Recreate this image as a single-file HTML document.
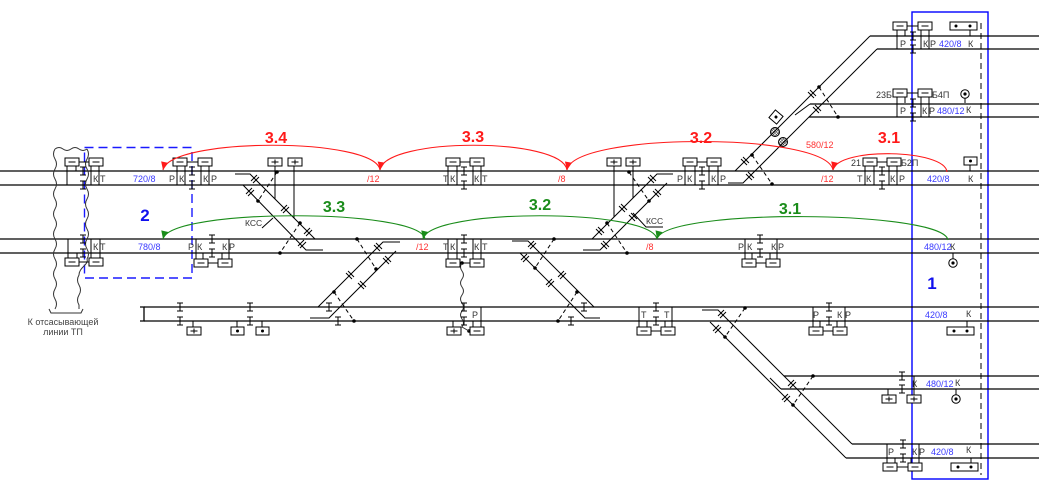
<!DOCTYPE html>
<html><head><meta charset="utf-8"><style>
html,body{margin:0;padding:0;background:#fff;}
svg{display:block;}
text{font-family:"Liberation Sans","DejaVu Sans",sans-serif;}
</style></head><body>
<svg width="1039" height="481" viewBox="0 0 1039 481" xmlns="http://www.w3.org/2000/svg">
<defs>
<g id="ib"><path d="M-3,-4h6M0,-4v8M-3,4h6" stroke="#000" stroke-width="1" fill="none"/></g>
<g id="bm"><rect x="0" y="0" width="14" height="8" fill="#fff" stroke="#000"/><path d="M3.5,4h7" stroke="#000"/></g>
<g id="bp"><rect x="0" y="0" width="14" height="8" fill="#fff" stroke="#000"/><path d="M3.5,4h7M7,1.5v5" stroke="#000"/></g>
<g id="bd"><rect x="0" y="0" width="13" height="8" fill="#fff" stroke="#000"/><circle cx="6.5" cy="4" r="1.5"/></g>
<g id="cd"><circle cx="0" cy="0" r="4.2" fill="#fff" stroke="#000"/><circle cx="0" cy="0" r="1.6"/></g>
<g id="tdr"><path d="M-4,2L2,-4M-2,4L4,-2" stroke="#000" fill="none"/></g>
<g id="tdl"><path d="M-4,-2L2,4M-2,-4L4,2" stroke="#000" fill="none"/></g>
<pattern id="hatch" width="2" height="2" patternUnits="userSpaceOnUse" patternTransform="rotate(45)"><path d="M0,0V2M0,0H2" stroke="#000" stroke-width="0.8"/></pattern>
<marker id="arR" viewBox="0 0 10 10" refX="10" refY="5" markerWidth="9" markerHeight="8" orient="auto" markerUnits="userSpaceOnUse"><path d="M0,0.5L10,5L0,9.5z" fill="#ff1a1a"/></marker>
<marker id="arG" viewBox="0 0 10 10" refX="10" refY="5" markerWidth="9" markerHeight="8" orient="auto" markerUnits="userSpaceOnUse"><path d="M0,0.5L10,5L0,9.5z" fill="#1a8c1a"/></marker>
</defs>

<!-- zone 1 -->
<rect x="912" y="12" width="76" height="467" fill="none" stroke="#0000ff" stroke-width="1.4"/>
<path d="M981,23V475" stroke="#000" stroke-width="1" stroke-dasharray="6,4" fill="none"/>
<!-- zone 2 -->
<rect x="84.5" y="147.5" width="107.5" height="130.5" fill="none" stroke="#1a1aff" stroke-width="1.4" stroke-dasharray="9,5"/>

<!-- rails -->
<g stroke="#000" stroke-width="1.3" fill="none">
<path d="M0,171H1039M0,185H1039M0,239H1039M0,253H1039M144,307H1039M144,321H1039"/>
<path d="M140,307H144V321H140"/>
<path d="M870,36H1039M877,49H1039"/>
<path d="M810,104H1039M809,117H1039"/>
<path d="M784,376H1039M781,389H1039"/>
<path d="M852,444H1039M846,458H1039"/>
</g>

<!-- diagonals -->
<g stroke="#000" stroke-width="1" fill="none">
<path d="M870,36L735,171"/>
<path d="M877,49L743,183H728"/>
<path d="M795,115L810,104"/>
<path d="M235,174H250L315,239"/>
<path d="M243,185L306,250H323"/>
<path d="M400,242H383L318,307"/>
<path d="M396,251L329,318H310"/>
<path d="M673,174H657L592,239"/>
<path d="M667,183L600,250H583"/>
<path d="M512,241H528L594,307"/>
<path d="M520,253L585,318H600"/>
<path d="M702,310H718L852,444"/>
<path d="M710,322L846,458"/>
<path d="M770,378L781,389"/>
<path d="M275,166V199M294,166V218M614,166V217M633,166V198"/>
<path d="M262,228L273,218"/>
<path d="M633,213L646,227H663"/>
</g>

<!-- dashed links -->
<g stroke="#000" stroke-width="1" stroke-dasharray="4,3" fill="none">
<path d="M277,172L258,201M300,223L280,253"/>
<path d="M357,239L376,269M334,292L354,321"/>
<path d="M629,172L649,201M607,223L627,253"/>
<path d="M554,239L535,268M577,292L558,321"/>
<path d="M819,87L838,117M752,155L772,184"/>
<path d="M745,308L725,337M813,376L793,405"/>
</g>
<g fill="#000">
<circle cx="277" cy="172" r="1.8"/><circle cx="258" cy="201" r="1.8"/><circle cx="300" cy="223" r="1.8"/><circle cx="280" cy="253" r="1.8"/>
<circle cx="357" cy="239" r="1.8"/><circle cx="376" cy="269" r="1.8"/><circle cx="334" cy="292" r="1.8"/><circle cx="354" cy="321" r="1.8"/>
<circle cx="629" cy="172" r="1.8"/><circle cx="649" cy="201" r="1.8"/><circle cx="607" cy="223" r="1.8"/><circle cx="627" cy="253" r="1.8"/>
<circle cx="554" cy="239" r="1.8"/><circle cx="535" cy="268" r="1.8"/><circle cx="577" cy="292" r="1.8"/><circle cx="558" cy="321" r="1.8"/>
<circle cx="819" cy="87" r="1.8"/><circle cx="838" cy="117" r="1.8"/><circle cx="752" cy="155" r="1.8"/><circle cx="772" cy="184" r="1.8"/>
<circle cx="745" cy="308" r="1.8"/><circle cx="725" cy="337" r="1.8"/><circle cx="813" cy="376" r="1.8"/><circle cx="793" cy="405" r="1.8"/>
<circle cx="462" cy="263" r="1.8"/><circle cx="469" cy="331" r="1.8"/>
</g>

<!-- ticks -->
<use href="#tdr" x="255" y="179"/><use href="#tdr" x="285" y="209"/><use href="#tdr" x="308" y="232"/>
<use href="#tdr" x="250" y="192"/><use href="#tdr" x="302" y="244"/>
<use href="#tdl" x="378" y="247"/><use href="#tdl" x="350" y="275"/><use href="#tdl" x="387" y="260"/><use href="#tdl" x="362" y="285"/>
<use href="#tdl" x="652" y="179"/><use href="#tdl" x="623" y="208"/><use href="#tdl" x="600" y="231"/>
<use href="#tdl" x="657" y="193"/><use href="#tdl" x="633" y="217"/><use href="#tdl" x="605" y="245"/>
<use href="#tdr" x="532" y="245"/><use href="#tdr" x="562" y="275"/><use href="#tdr" x="525" y="258"/><use href="#tdr" x="550" y="283"/>
<use href="#tdl" x="812" y="94"/><use href="#tdl" x="745" y="161"/><use href="#tdl" x="817" y="109"/><use href="#tdl" x="750" y="176"/>
<use href="#tdr" x="722" y="314"/><use href="#tdr" x="792" y="384"/><use href="#tdr" x="717" y="329"/><use href="#tdr" x="786" y="398"/>

<!-- signals on top diagonal -->
<circle cx="775" cy="132" r="4.5" fill="url(#hatch)" stroke="#000"/>
<circle cx="783" cy="142" r="4.5" fill="url(#hatch)" stroke="#000"/>
<g transform="translate(776,117) rotate(40)"><rect x="-5" y="-5" width="10" height="10" fill="#fff" stroke="#000"/><circle r="1.5"/></g>

<!-- wavy cables -->
<g stroke="#333" stroke-width="1" fill="none">
<path d="M55,149 q-3,5 0,10 t0,10 t0,10 t0,10 t0,10 t0,10 t0,10 t0,10 t0,10 t0,10 t0,10 t0,10 t0,10 t0,10 t0,10 t0,10"/>
<path d="M55,149 q4,-3 8,0 t8,0 t8,0 t8,0"/>
<path d="M87,149 q3,5 0,10 t0,10 t0,10 t0,10 t0,10 t0,10 t0,10 t0,10 t0,10 t0,10 t0,10 c2,6 -8,8 -8,16 q-3,5 0,10 t0,10 t0,10 l0,4"/>
<path d="M49,309L51,313H81L83,309"/>
<path d="M462,263 q-3,4 0,8 t0,8 t0,8 t0,8 t0,8 t0,8 t0,8 t0,8 l7,4"/>
</g>

<!-- legs and connectors -->
<g stroke="#000" stroke-width="1" fill="none">
<path d="M67,166V185M76,166V171M91,166V185M99,166V185M177,166V185M185,166V185M201,166V185M209,166V185M448,166V185M457,166V185M473,166V185M481,166V185M685,166V185M695,166V185M709,166V185M718,166V185M865,166V185M874,166V185M889,166V185M897,166V185M970,165V171"/>
<path d="M68,239V258M77,253V258M91,239V258M100,239V258M196,239V259M203,253V259M222,253V259M229,239V259M448,239V259M457,239V259M473,239V259M481,239V259M745,239V259M752,253V259M770,253V259M777,239V259M953,253V259"/>
<path d="M193,321V327M237,321V327M262,321V327M453,321V327M473,321V327M481,307V327M639,307V327M647,321V327M665,321V327M672,307V327M813,307V327M820,321V327M837,321V327M845,307V327M967,321V327"/>
<path d="M897,30V49M905,30V36M921,30V49M929,30V49M970,30V36"/>
<path d="M897,97V117M905,97V103M921,97V117M929,97V117M965,98V103"/>
<path d="M888,389V395M914,376V395M956,389V395"/>
<path d="M887,444V463M895,458V463M911,458V463M919,444V463M971,458V463"/>
<path d="M79,162H89M187,162H198M460,162H470M697,162H707M877,162H887"/>
<path d="M79,262H89M208,263H218M460,263H470M756,263H766"/>
<path d="M651,331H661M823,331H833"/>
<path d="M907,26H918M907,93H918M897,467H908"/>
</g>

<!-- boxes -->
<use href="#bm" x="65" y="158"/><use href="#bm" x="89" y="158"/>
<use href="#bm" x="173" y="158"/><use href="#bm" x="198" y="158"/>
<use href="#bp" x="268" y="158"/><use href="#bp" x="288" y="158"/>
<use href="#bm" x="446" y="158"/><use href="#bm" x="470" y="158"/>
<use href="#bp" x="607" y="158"/><use href="#bp" x="626" y="158"/>
<use href="#bm" x="683" y="158"/><use href="#bm" x="707" y="158"/>
<use href="#bm" x="863" y="158"/><use href="#bm" x="887" y="158"/>
<use href="#bd" x="964" y="157"/>

<use href="#bm" x="65" y="258"/><use href="#bm" x="89" y="258"/>
<use href="#bm" x="194" y="259"/><use href="#bm" x="218" y="259"/>
<use href="#bm" x="446" y="259"/><use href="#bm" x="470" y="259"/>
<use href="#bm" x="742" y="259"/><use href="#bm" x="766" y="259"/>
<use href="#cd" x="953" y="263"/>

<use href="#bp" x="187" y="327"/><use href="#bd" x="231" y="327"/><use href="#bd" x="256" y="327"/>
<use href="#bp" x="447" y="327"/><use href="#bm" x="470" y="327"/>
<use href="#bm" x="637" y="327"/><use href="#bm" x="661" y="327"/>
<use href="#bm" x="809" y="327"/><use href="#bm" x="833" y="327"/>
<rect x="947" y="327" width="27" height="8" fill="#fff" stroke="#000"/><circle cx="954" cy="331" r="1.5"/><circle cx="967" cy="331" r="1.5"/>

<use href="#bm" x="893" y="22"/><use href="#bm" x="918" y="22"/>
<rect x="950" y="22" width="27" height="8" fill="#fff" stroke="#000"/><circle cx="956" cy="26" r="1.5"/><circle cx="970" cy="26" r="1.5"/>
<use href="#bm" x="893" y="89"/><use href="#bm" x="918" y="89"/>
<use href="#cd" x="965" y="94"/>

<use href="#bp" x="882" y="395"/><use href="#bp" x="907" y="395"/>
<use href="#cd" x="956" y="399"/>

<use href="#bm" x="883" y="463"/><use href="#bm" x="908" y="463"/>
<rect x="951" y="463" width="27" height="8" fill="#fff" stroke="#000"/><circle cx="958" cy="467" r="1.5"/><circle cx="971" cy="467" r="1.5"/>

<!-- I-beams -->
<use href="#ib" x="83" y="171"/><use href="#ib" x="83" y="185"/><use href="#ib" x="192" y="171"/><use href="#ib" x="192" y="185"/>
<use href="#ib" x="464" y="171"/><use href="#ib" x="464" y="185"/><use href="#ib" x="702" y="171"/><use href="#ib" x="702" y="185"/>
<use href="#ib" x="882" y="171"/><use href="#ib" x="882" y="185"/>
<use href="#ib" x="83" y="239"/><use href="#ib" x="83" y="253"/><use href="#ib" x="212" y="239"/><use href="#ib" x="212" y="253"/>
<use href="#ib" x="464" y="239"/><use href="#ib" x="464" y="253"/><use href="#ib" x="760" y="239"/><use href="#ib" x="760" y="253"/>
<use href="#ib" x="180" y="307"/><use href="#ib" x="180" y="321"/><use href="#ib" x="250" y="307"/><use href="#ib" x="250" y="321"/>
<use href="#ib" x="329" y="307"/><use href="#ib" x="338" y="321"/><use href="#ib" x="464" y="307"/><use href="#ib" x="464" y="321"/>
<use href="#ib" x="584" y="307"/><use href="#ib" x="571" y="321"/><use href="#ib" x="656" y="307"/><use href="#ib" x="656" y="321"/>
<use href="#ib" x="829" y="307"/><use href="#ib" x="829" y="321"/>
<use href="#ib" x="913" y="36"/><use href="#ib" x="913" y="49"/><use href="#ib" x="913" y="103"/><use href="#ib" x="913" y="117"/>
<use href="#ib" x="902" y="376"/><use href="#ib" x="902" y="389"/><use href="#ib" x="903" y="444"/><use href="#ib" x="903" y="458"/>

<!-- arcs -->
<g fill="none" stroke-width="1.1">
<path d="M947,172 C945,149 838,147 833,170" stroke="#ff1a1a" marker-end="url(#arR)"/>
<path d="M833,170 C826,132 574,132 567,170" stroke="#ff1a1a" marker-end="url(#arR)"/>
<path d="M567,170 C562,137 385,137 380,170" stroke="#ff1a1a" marker-end="url(#arR)"/>
<path d="M380,170 C375,137 170,137 163,170" stroke="#ff1a1a" marker-end="url(#arR)"/>
<path d="M948,240 C943,210 665,208 657,239" stroke="#1a8c1a" marker-end="url(#arG)"/>
<path d="M657,239 C650,208 430,208 423,239" stroke="#1a8c1a" marker-end="url(#arG)"/>
<path d="M425,239 C420,208 170,208 163,239" stroke="#1a8c1a" marker-end="url(#arG)"/>
</g>

<!-- big labels -->
<g font-weight="bold" font-size="16" text-anchor="middle">
<text x="276" y="143" fill="#ff1a1a">3.4</text>
<text x="473" y="142" fill="#ff1a1a">3.3</text>
<text x="701" y="143" fill="#ff1a1a">3.2</text>
<text x="889" y="143" fill="#ff1a1a">3.1</text>
<text x="334" y="212" fill="#1a8c1a">3.3</text>
<text x="540" y="210" fill="#1a8c1a">3.2</text>
<text x="790" y="214" fill="#1a8c1a">3.1</text>
</g>
<g font-weight="bold" font-size="17" fill="#1010ee" text-anchor="middle">
<text x="932" y="289">1</text>
<text x="145" y="221">2</text>
</g>

<!-- small labels -->
<g font-size="9" fill="#333">
<text x="93" y="182">К</text><text x="100" y="182">Т</text>
<text x="169" y="182">Р</text><text x="179" y="182">К</text><text x="203" y="182">К</text><text x="211" y="182">Р</text>
<text x="443" y="182">Т</text><text x="450" y="182">К</text><text x="474" y="182">К</text><text x="482" y="182">Т</text>
<text x="677" y="182">Р</text><text x="687" y="182">К</text><text x="711" y="182">К</text><text x="720" y="182">Р</text>
<text x="857" y="182">Т</text><text x="866" y="182">К</text><text x="890" y="182">К</text><text x="899" y="182">Р</text>
<text x="968" y="182">К</text>
<text x="851" y="166">21</text><text x="901" y="166">Б2П</text>

<text x="93" y="250">К</text><text x="100" y="250">Т</text>
<text x="188" y="250">Р</text><text x="197" y="250">К</text><text x="222" y="250">К</text><text x="229" y="250">Р</text>
<text x="443" y="250">Т</text><text x="450" y="250">К</text><text x="474" y="250">К</text><text x="482" y="250">Т</text>
<text x="738" y="250">Р</text><text x="747" y="250">К</text><text x="771" y="250">К</text><text x="778" y="250">Р</text>
<text x="950" y="250">К</text>

<text x="472" y="318">Р</text>
<text x="641" y="318">Т</text><text x="664" y="318">Т</text>
<text x="813" y="318">Р</text><text x="837" y="318">К</text><text x="845" y="318">Р</text>
<text x="966" y="317">К</text>

<text x="900" y="47">Р</text><text x="923" y="47">К</text><text x="930" y="47">Р</text><text x="968" y="47">К</text>
<text x="876" y="98">23Б</text><text x="932" y="98">Б4П</text>
<text x="900" y="114">Р</text><text x="922" y="114">К</text><text x="929" y="114">Р</text><text x="966" y="113">К</text>
<text x="912" y="387">К</text><text x="955" y="386">К</text>
<text x="888" y="455">Р</text><text x="912" y="455">К</text><text x="919" y="455">Р</text><text x="966" y="453">К</text>

<text x="245" y="226" font-size="8.5">КСС</text>
<text x="646" y="224" font-size="8.5">КСС</text>
</g>

<g font-size="9" fill="#3a3aff">
<text x="133" y="182">720/8</text>
<text x="927" y="182">420/8</text>
<text x="138" y="250">780/8</text>
<text x="924" y="250">480/12</text>
<text x="925" y="318">420/8</text>
<text x="939" y="47">420/8</text>
<text x="937" y="114">480/12</text>
<text x="926" y="387">480/12</text>
<text x="931" y="455">420/8</text>
</g>

<g font-size="9" fill="#ff3030">
<text x="367" y="182">/12</text>
<text x="558" y="182">/8</text>
<text x="821" y="182">/12</text>
<text x="806" y="148">580/12</text>
<text x="416" y="250">/12</text>
<text x="646" y="250">/8</text>
</g>

<g font-size="9" fill="#444" text-anchor="middle">
<text x="63" y="325">К отсасывающей</text>
<text x="63" y="335">линии ТП</text>
</g>
</svg>
</body></html>
